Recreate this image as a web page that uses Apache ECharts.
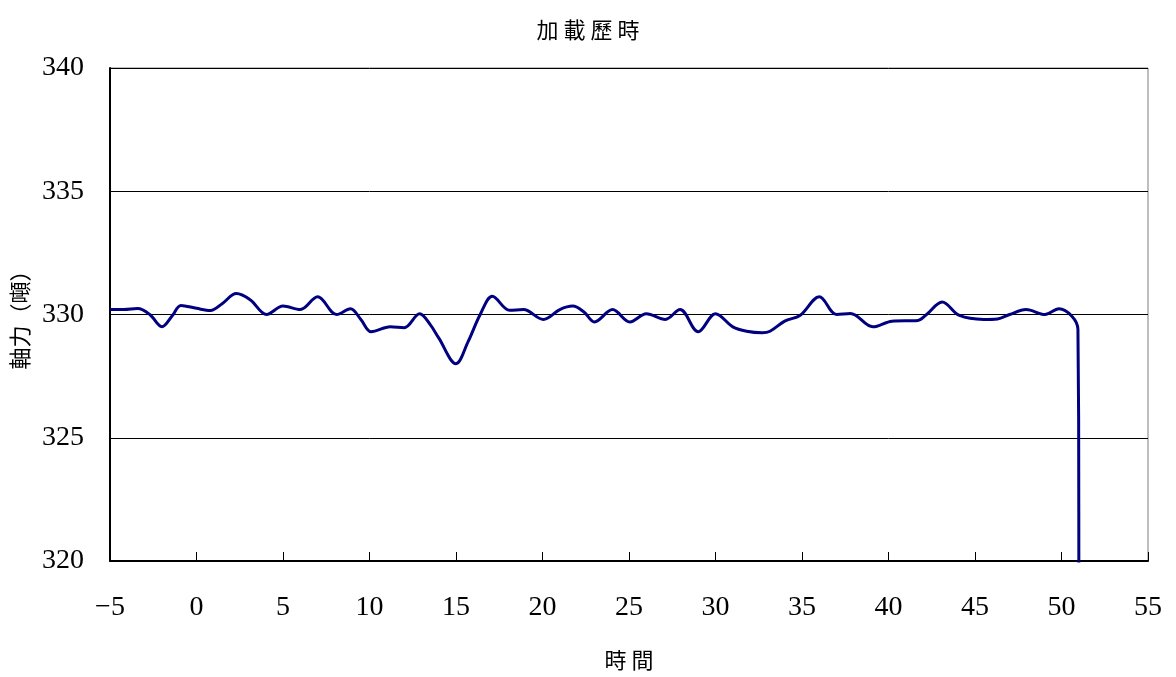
<!DOCTYPE html>
<html>
<head>
<meta charset="utf-8">
<script src="https://cdn.jsdelivr.net/npm/echarts@6/dist/echarts.min.js"></script>
<style>
html,body{margin:0;padding:0;background:#fff;}
#chart{width:1176px;height:677px;}
</style>
</head>
<body>
<div id="chart"></div>
<script>
const titleText = '加 載 歷 時';
const xName = '時 間';
const yName = '軸力（噸）';

const time = [-5, -4.2, -3.4, -2.7, -2.0, -1.4, -0.9, 0.0, 0.8, 1.5, 2.3, 3.1, 4.05, 5.0, 6.0, 7.0, 8.1, 8.9, 9.5, 10.1, 11.2, 12.0, 12.9, 13.5, 14.0, 15.0, 15.7, 16.4, 17.1, 18.1, 18.9, 20.05, 21.0, 21.75, 22.4, 23.0, 24.05, 25.05, 26.0, 27.1, 27.95, 29.0, 30.0, 31.0, 31.8, 32.7, 33.15, 34.0, 34.9, 36.0, 37.0, 37.8, 39.1, 40.2, 41.7, 42.2, 43.1, 44.1, 45.5, 46.3, 47.0, 47.95, 49.05, 49.85, 50.6, 50.95, 51.0, 51.02];
const force = [330.2, 330.2, 330.24, 330.0, 329.5, 329.95, 330.37, 330.25, 330.16, 330.45, 330.85, 330.6, 330.0, 330.34, 330.2, 330.72, 330.0, 330.23, 329.8, 329.3, 329.5, 329.46, 330.03, 329.6, 329.05, 328.0, 328.9, 330.0, 330.74, 330.17, 330.2, 329.8, 330.2, 330.34, 330.1, 329.7, 330.2, 329.7, 330.03, 329.8, 330.2, 329.3, 330.03, 329.5, 329.32, 329.26, 329.32, 329.73, 329.97, 330.72, 330.0, 330.04, 329.5, 329.73, 329.76, 330.0, 330.51, 329.96, 329.8, 329.82, 330.0, 330.2, 330.0, 330.23, 329.93, 329.4, 322, 300];

const xTicks = { min: -5, max: 55, interval: 5 };
const yTicks = { min: 320, max: 340, interval: 5 };

const chart = echarts.init(document.getElementById('chart'), null, { renderer: 'canvas' });
const serif = '"Liberation Serif", "DejaVu Serif", serif';
const cjk = '"Noto Sans CJK TC", "Noto Sans CJK SC", sans-serif';

chart.setOption({
  animation: false,
  backgroundColor: '#fff',
  title: {
    text: titleText,
    left: 'center',
    top: 14,
    textStyle: { fontFamily: cjk, fontSize: 22, fontWeight: 'normal', color: '#000' }
  },
  grid: {
    left: 110, right: 28, top: 68, bottom: 116,
    show: true, borderColor: '#7f7f7f', borderWidth: 1, backgroundColor: 'transparent'
  },
  xAxis: {
    type: 'value',
    min: xTicks.min, max: xTicks.max, interval: xTicks.interval,
    name: xName,
    nameLocation: 'middle',
    nameGap: 88,
    nameTextStyle: { fontFamily: cjk, fontSize: 22, color: '#000' },
    axisLine: { show: true, onZero: false, lineStyle: { color: '#000', width: 2 } },
    axisTick: { show: true, inside: true, length: 9, lineStyle: { color: '#000', width: 1 } },
    axisLabel: {
      margin: 33, fontFamily: serif, fontSize: 28, color: '#000',
      formatter: v => String(v).replace('-', '\u2212')
    },
    splitLine: { show: false }
  },
  yAxis: {
    type: 'value',
    min: yTicks.min, max: yTicks.max, interval: yTicks.interval,
    name: yName,
    nameLocation: 'middle',
    nameRotate: 90,
    nameGap: 74,
    nameTextStyle: { fontFamily: cjk, fontSize: 22, color: '#000' },
    axisLine: { show: true, onZero: false, lineStyle: { color: '#000', width: 2 } },
    axisTick: { show: true, inside: true, length: 9, lineStyle: { color: '#000', width: 1 } },
    axisLabel: { margin: 26, fontFamily: serif, fontSize: 28, color: '#000' },
    splitLine: { show: true, lineStyle: { color: '#000', width: 1 } }
  },
  series: [{
    type: 'line',
    data: time.map((t, i) => [t, force[i]]),
    smooth: 0.35,
    showSymbol: false,
    clip: true,
    lineStyle: { color: '#000080', width: 3 }
  }]
});
</script>
</body>
</html>
